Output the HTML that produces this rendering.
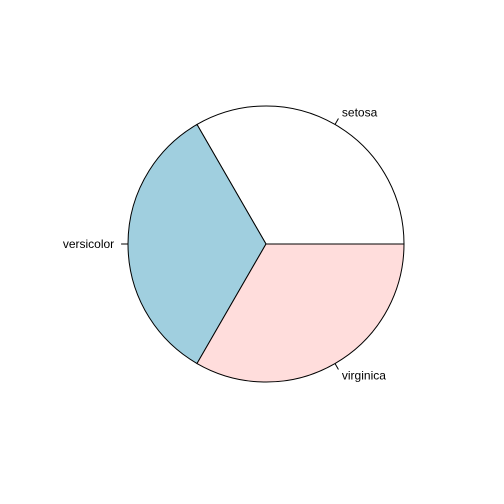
<!DOCTYPE html>
<html>
<head>
<meta charset="utf-8">
<style>
  html, body { margin: 0; padding: 0; background: #ffffff; }
  svg { display: block; }
  text { font-family: "Liberation Sans", Arial, sans-serif; font-size: 12px; fill: #000; }
</style>
</head>
<body>
<svg id="chart" width="504" height="504" viewBox="0 0 504 504"></svg>
<script>
const categories = ["setosa", "versicolor", "virginica"];
const counts = [50, 50, 50];
const sliceColors = ["#ffffff", "#a0cfdf", "#ffdddc"];

const svgNS = "http://www.w3.org/2000/svg";
const svg = document.getElementById("chart");
const cx = 266, cy = 244, r = 138;
const total = counts.reduce((a, b) => a + b, 0);

function pt(angle, rad) {
  return [cx + rad * Math.cos(angle), cy - rad * Math.sin(angle)];
}

let start = 0;
counts.forEach((v, i) => {
  const sweep = (v / total) * 2 * Math.PI;
  const end = start + sweep;
  const [x1, y1] = pt(start, r);
  const [x2, y2] = pt(end, r);
  const large = sweep > Math.PI ? 1 : 0;
  const path = document.createElementNS(svgNS, "path");
  path.setAttribute("d", `M${cx},${cy} L${x1},${y1} A${r},${r} 0 ${large} 0 ${x2},${y2} Z`);
  path.setAttribute("fill", sliceColors[i]);
  path.setAttribute("stroke", "#000");
  path.setAttribute("stroke-width", "1");
  
  
  svg.appendChild(path);

  const mid = (start + end) / 2;
  const [lx1, ly1] = pt(mid, r);
  const [lx2, ly2] = pt(mid, r * 1.05);
  const tick = document.createElementNS(svgNS, "line");
  tick.setAttribute("x1", lx1); tick.setAttribute("y1", ly1);
  tick.setAttribute("x2", lx2); tick.setAttribute("y2", ly2);
  tick.setAttribute("stroke", "#000");
  
  
  svg.appendChild(tick);

  const [tx, ty] = pt(mid, r * 1.1);
  const label = document.createElementNS(svgNS, "text");
  label.setAttribute("x", tx);
  label.setAttribute("y", ty + 4);
  label.setAttribute("text-anchor", Math.cos(mid) >= 0 ? "start" : "end");
  label.textContent = categories[i];
  
  
  svg.appendChild(label);

  start = end;
});
</script>
</body>
</html>
